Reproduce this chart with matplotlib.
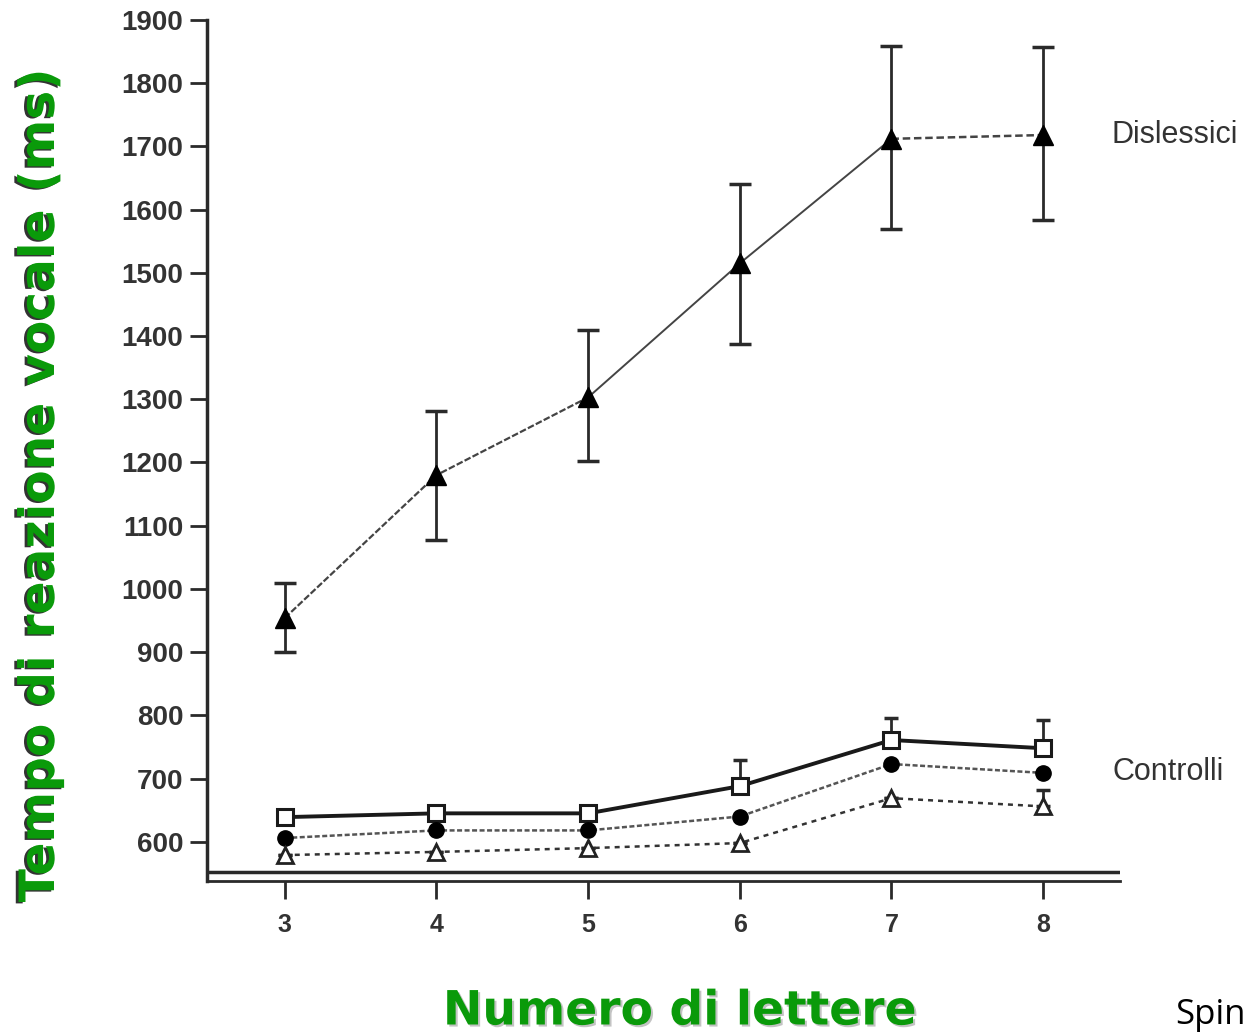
import matplotlib
matplotlib.use("Agg")
import matplotlib.pyplot as plt
import matplotlib.patheffects as pe
import numpy as np

# letter counts
letters = [3, 4, 5, 6, 7, 8]

# dyslexic readers (mean, lower / upper error bar ends)
dys_mean = [954, 1180, 1303, 1515, 1712, 1718]
dys_low = [900, 1078, 1202, 1388, 1569, 1584]
dys_high = [1009, 1281, 1409, 1640, 1859, 1857]

# three control groups
ctrl_square = [639, 645, 645, 688, 761, 748]
ctrl_square_high = [639, 645, 645, 729, 796, 792]
ctrl_circle = [606, 618, 618, 640, 723, 709]
ctrl_triangle = [579, 584, 590, 598, 669, 656]
ctrl_triangle_high = [579, 584, 590, 598, 669, 682]

yticks = list(range(600, 2000, 100))

GREEN = "#0a9a0a"
INK = "#2a2a2a"

fig = plt.figure(figsize=(12.52, 10.35), dpi=100)
ax = fig.add_axes([0.1653, 0.1488, 0.7293, 0.8319])

x = np.array(letters)

# error bars
ax.errorbar(x, dys_mean,
            yerr=[np.array(dys_mean) - dys_low, np.array(dys_high) - dys_mean],
            fmt="none", ecolor=INK, elinewidth=2, capsize=8, capthick=2.5, zorder=1)
ax.errorbar(x, ctrl_square, yerr=[np.zeros(6), np.array(ctrl_square_high) - ctrl_square],
            fmt="none", ecolor=INK, elinewidth=2, capsize=5, capthick=2.5, zorder=1)
ax.errorbar(x, ctrl_triangle, yerr=[np.zeros(6), np.array(ctrl_triangle_high) - ctrl_triangle],
            fmt="none", ecolor=INK, elinewidth=2, capsize=5, capthick=2.5, zorder=1)

# dyslexic line: dashed 3-5, solid 5-7, dashed 7-8
ax.plot(x[:3], dys_mean[:3], color="#444444", lw=1.6, ls=(0, (3, 1)), zorder=2)
ax.plot(x[2:5], dys_mean[2:5], color="#444444", lw=1.4, zorder=2)
ax.plot(x[4:], dys_mean[4:], color="#444444", lw=1.8, ls=(0, (3, 1.5)), zorder=2)
ax.plot(x, dys_mean, ls="none", marker="^", ms=14, color="black", zorder=3)

# controls
ax.plot(x, ctrl_square, color="#1a1a1a", lw=2.8, marker="s", ms=12,
        mfc="white", mec="#1a1a1a", mew=2.2, zorder=3)
ax.plot(x, ctrl_circle, color="#555555", lw=1.8, ls=(0, (2, 1)), marker="o", ms=11,
        mfc="black", mec="black", zorder=3)
ax.plot(x, ctrl_triangle, color="#333333", lw=1.8, ls=(0, (2, 2)), marker="^", ms=11,
        mfc="white", mec="#222222", mew=2, zorder=3)

ax.set_xlim(2.487, 8.507)
ax.set_ylim(538, 1900)
ax.axhline(552, color=INK, lw=2.5, zorder=1)

for side in ("top", "right"):
    ax.spines[side].set_visible(False)
ax.spines["left"].set_linewidth(2.5)
ax.spines["left"].set_color(INK)
ax.spines["bottom"].set_linewidth(2)
ax.spines["bottom"].set_color(INK)

ax.set_yticks(yticks)
ax.set_xticks(letters)
ax.tick_params(axis="y", length=12, width=2, color=INK, pad=5,
               labelsize=20, labelcolor="#333333")
ax.tick_params(axis="x", length=13, width=2, color=INK, pad=10,
               labelsize=18, labelcolor="#333333")
for lab in ax.get_xticklabels() + ax.get_yticklabels():
    lab.set_fontfamily("Liberation Sans")
    lab.set_fontweight("bold")

ax.text(1112 / 1252, 1 - 135 / 1035, "Dislessici", transform=fig.transFigure,
        fontsize=22, family="Liberation Sans", color="#333333", va="center", ha="left")
ax.text(1112 / 1252, 1 - 772 / 1035, "Controlli", transform=fig.transFigure,
        fontsize=22, family="Liberation Sans", color="#333333", va="center", ha="left")

fig.text(40 / 1252, 1 - 485 / 1035, "Tempo di reazione vocale (ms)", rotation=90,
         fontsize=35, fontweight="bold", color=GREEN, ha="center", va="center",
         family="DejaVu Sans",
         path_effects=[pe.SimplePatchShadow(offset=(-2, -1), shadow_rgbFace="black", alpha=0.8),
                       pe.Normal()])
fig.text(680 / 1252, 1 - 1012 / 1035, "Numero di lettere",
         fontsize=34, fontweight="bold", color=GREEN, ha="center", va="center",
         family="DejaVu Sans",
         path_effects=[pe.SimplePatchShadow(offset=(1.5, -1.5), shadow_rgbFace="#888888", alpha=0.5),
                       pe.Normal()])
fig.text(1175 / 1252, 1 - 1024 / 1035, "Spin", fontsize=25, family="Open Sans",
         color="black", ha="left", va="baseline")

fig.savefig("out.png", dpi=100, facecolor="white")
